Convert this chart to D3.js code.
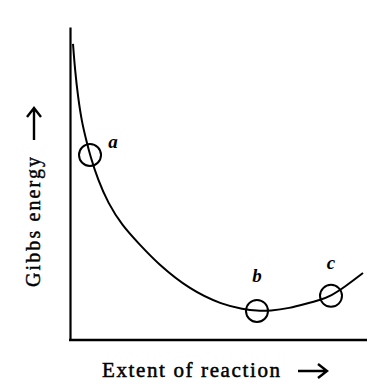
<!DOCTYPE html>
<html><head><meta charset="utf-8">
<script src="https://cdn.jsdelivr.net/npm/d3@7"></script>
<style>html,body{margin:0;padding:0;background:#fff;}</style>
</head><body>
<svg id="c" width="384" height="392"></svg>
<script>
// Extent of reaction (0-100) and Gibbs energy (0-100)
const extent = [1.0, 1.0, 1.67, 2.67, 4.0, 5.67, 6.67, 9.33, 12.67, 17.33, 23.33, 29, 40, 51, 57.67, 62.33, 66.67, 73.33, 78.33, 83.33, 87, 91.67, 97.67, 97.67];
const gibbs  = [94.6, 94.6, 86.3, 77.6, 69.3, 62.9, 59.1, 51.1, 43.8, 36.6, 30.4, 24.6, 16.0, 11.2, 9.9, 9.3, 9.3, 10.2, 11.5, 12.8, 14.1, 17.0, 21.4, 21.4];
const markLabels = ["a", "b", "c"];
const markExtent = [6.67, 62.33, 87];
const markGibbs  = [59.1, 9.3, 14.1];
const xTitle = "Extent of reaction";
const yTitle = "Gibbs energy";

const FONT = "'Liberation Serif', 'Times New Roman', serif";
const svg = d3.select("#c");
const x = d3.scaleLinear().domain([0, 100]).range([70, 370]);
const y = d3.scaleLinear().domain([0, 100]).range([340, 27]);

// axes (no ticks)
const xAxis = d3.axisBottom(x).tickValues([]).tickSizeOuter(0);
const yAxis = d3.axisLeft(y).tickValues([]).tickSizeOuter(0);
svg.append("g").attr("transform", `translate(0,${y(0)})`).call(xAxis)
  .select(".domain").attr("stroke", "#000").attr("stroke-width", 2.5).attr("d", `M${x(0)-1},0H${x(99)}`);
svg.append("g").attr("transform", `translate(${x(0)},0)`).call(yAxis)
  .select(".domain").attr("stroke", "#000").attr("stroke-width", 2.2);

// curve
const pts = extent.map((e, i) => [e, gibbs[i]]);
svg.append("path").datum(pts)
  .attr("fill", "none").attr("stroke", "#000").attr("stroke-width", 2)
  .attr("d", d3.line().x(d => x(d[0])).y(d => y(d[1])).curve(d3.curveBasis));

// circles
svg.selectAll("circle.m").data(markLabels).enter().append("circle")
  .attr("cx", (d, i) => x(markExtent[i])).attr("cy", (d, i) => y(markGibbs[i]))
  .attr("r", 11).attr("fill", "none").attr("stroke", "#000").attr("stroke-width", 2);

// labels
const labOff = [[23, -7], [0, -29], [0, -27]];
svg.selectAll("text.m").data(markLabels).enter().append("text")
  .attr("x", (d, i) => x(markExtent[i]) + labOff[i][0])
  .attr("y", (d, i) => y(markGibbs[i]) + labOff[i][1])
  .attr("text-anchor", "middle")
  .attr("font-family", FONT).attr("font-style", "italic").attr("font-weight", "bold")
  .attr("font-size", 19).text(d => d);

// axis titles
svg.append("text").attr("x", 102).attr("y", 377)
  .attr("font-family", FONT).attr("font-size", 21)
  .attr("stroke", "#000").attr("stroke-width", 0.5)
  .attr("textLength", 178).attr("lengthAdjust", "spacing").text(xTitle);
svg.append("text").attr("transform", "translate(40,287) rotate(-90)")
  .attr("font-family", FONT).attr("font-size", 20)
  .attr("stroke", "#000").attr("stroke-width", 0.4)
  .attr("textLength", 130).attr("lengthAdjust", "spacing").text(yTitle);

// arrows
svg.append("path").attr("d", "M298,371H326M318,364L327,371L318,378")
  .attr("fill", "none").attr("stroke", "#000").attr("stroke-width", 2.4);
svg.append("path").attr("d", "M34,140V109M27,117L34,108L41,117")
  .attr("fill", "none").attr("stroke", "#000").attr("stroke-width", 2.4);
</script>
</body></html>
